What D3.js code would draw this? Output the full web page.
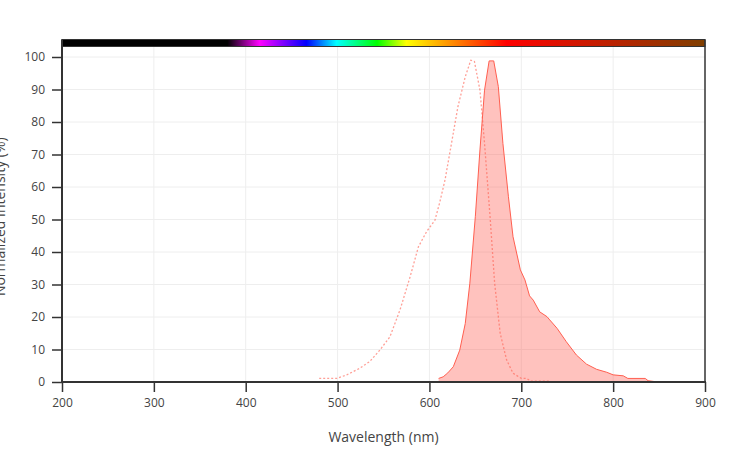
<!DOCTYPE html>
<html><head><meta charset="utf-8">
<script src="https://cdn.jsdelivr.net/npm/d3@7"></script>
<style>body{margin:0;background:#fff}svg{display:block;font-family:"Open Sans",sans-serif}</style>
</head><body><svg id="c" width="753" height="452"></svg>
<script>
const emWl  = [610,615,620,626,633,639,644,650,655,660,665,670,675,680,686,691,699,704,709,713,720,728,731,739,749,760,771,782,793,800,811,816,835,838,846];
const emVal = [1.1,1.6,2.8,4.7,9.8,18,30.4,51,71.4,89.8,98.8,98.8,90.9,73.4,57,44.7,34.5,31.4,26.5,25.2,21.6,20.1,19.1,16.5,12.4,8.3,5.5,3.9,3.0,2.2,1.9,1.1,1.1,0.4,0.1];
const exWl  = [480,499,510,524,535,546,557,568,579,588,597,606,611,617,624,631,639,645,649,655,660,666,671,677,684,691,700,706,710,730];
const exVal = [1.1,1.1,2.2,4.2,6.3,9.8,13.9,22.2,32.4,41.6,46.3,49.8,55,62.2,73.4,84.7,93.9,99,98.6,89.8,73.4,50.9,30.4,15,6.8,2.7,1.1,1.1,0.3,0.3];
const xTicks = [200,300,400,500,600,700,800,900];
const yTicks = [0,10,20,30,40,50,60,70,80,90,100];
const specNm  = [200,380,415,466,499,543,575,684,900];
const specCol = ["#000000","#000000","#ff00ff","#0000ff","#00ffff","#00ff00","#ffff00","#ff0000","#7f3f00"];

const svg = d3.select("#c");
const x = d3.scaleLinear().domain([200,900]).range([62,705]);
const y = d3.scaleLinear().domain([0,100]).range([382,57]);
const plotTop = 39.5;

// grid
svg.append("g").selectAll("line").data(xTicks.slice(1,-1)).join("line")
  .attr("x1",d=>x(d)).attr("x2",d=>x(d)).attr("y1",plotTop).attr("y2",y(0))
  .attr("stroke","#eee").attr("stroke-width",1);
svg.append("g").selectAll("line").data(yTicks.slice(1)).join("line")
  .attr("x1",x(200)).attr("x2",x(900)).attr("y1",d=>y(d)).attr("y2",d=>y(d))
  .attr("stroke","#eee").attr("stroke-width",1);

// emission area
const em = emWl.map((w,i)=>({w,v:emVal[i]}));
const ex = exWl.map((w,i)=>({w,v:exVal[i]}));
svg.append("path").datum(em)
  .attr("d",d3.area().x(d=>x(d.w)).y0(y(0)).y1(d=>y(d.v)))
  .attr("fill","rgba(255,80,70,0.35)");
svg.append("path").datum(em)
  .attr("d",d3.line().x(d=>x(d.w)).y(d=>y(d.v)))
  .attr("fill","none").attr("stroke","#ff5f50").attr("stroke-width",1);
svg.append("path").datum(ex)
  .attr("d",d3.line().x(d=>x(d.w)).y(d=>y(d.v)))
  .attr("fill","none").attr("stroke","rgba(255,95,80,0.6)").attr("stroke-width",1.3)
  .attr("stroke-dasharray","2,2");

// spectrum bar
const defs = svg.append("defs");
const grad = defs.append("linearGradient").attr("id","spec")
  .attr("gradientUnits","userSpaceOnUse").attr("x1",x(200)).attr("x2",x(900)).attr("y1",0).attr("y2",0);
grad.selectAll("stop").data(specNm).join("stop")
  .attr("offset",d=>(d-200)/700).attr("stop-color",(d,i)=>specCol[i]);
svg.append("rect").attr("x",x(200)).attr("y",plotTop).attr("width",x(900)-x(200)).attr("height",7)
  .attr("fill","url(#spec)").attr("stroke","#333").attr("stroke-width",1);

// axes
const xa = svg.append("g").attr("transform",`translate(0,${y(0)})`)
  .call(d3.axisBottom(x).tickValues(xTicks).tickSize(10).tickPadding(6));
const ya = svg.append("g").attr("transform",`translate(${x(200)},0)`)
  .call(d3.axisLeft(y).tickValues(yTicks).tickSize(10).tickPadding(7));
[xa,ya].forEach(g=>{
  g.select(".domain").remove();
  g.selectAll(".tick line").attr("stroke","#333").attr("stroke-width",1.5);
  g.selectAll(".tick text").attr("fill","#444").style("font-size","12px").style("font-family","'Open Sans',sans-serif");
});
svg.append("line").attr("x1",x(200)).attr("x2",x(200)).attr("y1",plotTop).attr("y2",y(0)+1)
  .attr("stroke","#333").attr("stroke-width",2);
svg.append("line").attr("x1",x(900)).attr("x2",x(900)).attr("y1",plotTop).attr("y2",y(0)+1)
  .attr("stroke","#333").attr("stroke-width",1.5);
svg.append("line").attr("x1",x(200)-1).attr("x2",x(900)+1).attr("y1",y(0)).attr("y2",y(0))
  .attr("stroke","#333").attr("stroke-width",2);

svg.append("text").attr("x",(x(200)+x(900))/2).attr("y",442).attr("text-anchor","middle")
  .attr("fill","#444").style("font-size","14px").text("Wavelength (nm)");
svg.append("text").attr("transform",`translate(5,${(y(0)+plotTop)/2+6}) rotate(-90)`).attr("text-anchor","middle")
  .attr("fill","#444").style("font-size","14px").text("Normalized Intensity (%)");
</script></body></html>
